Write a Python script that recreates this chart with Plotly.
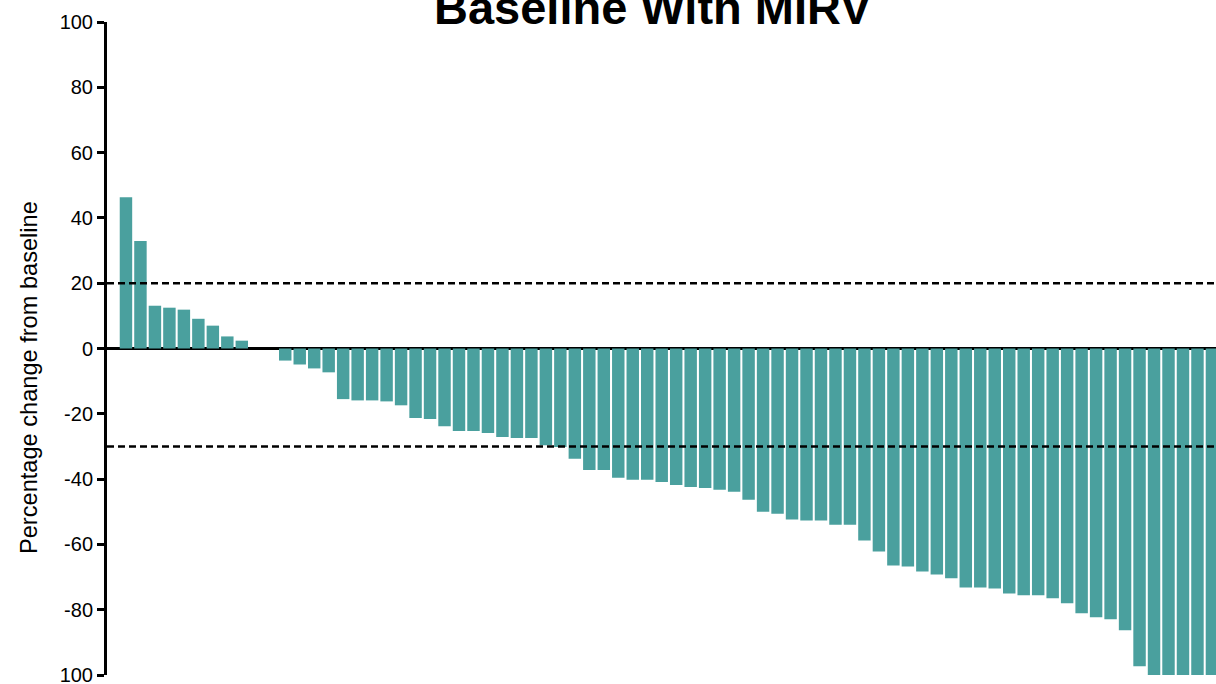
import plotly.graph_objects as go

# Percentage change from baseline per patient (sorted, waterfall)
values = [46.3, 32.9, 13.1, 12.5, 11.9, 9.1, 7.0, 3.7, 2.4, 0.0, 0.0,
          -3.7, -4.9, -6.1, -7.3, -15.5, -15.9, -15.9, -16.2, -17.4,
          -21.3, -21.6, -23.8, -25.3, -25.3, -25.9, -27.1, -27.4, -27.4,
          -29.6, -30.2, -33.8, -37.2, -37.2, -39.6, -40.2, -40.2, -40.9,
          -41.8, -42.4, -42.7, -43.3, -43.9, -46.3, -50.0, -50.6, -52.4,
          -52.7, -52.7, -54.0, -54.0, -58.8, -62.2, -66.5, -66.8, -68.3,
          -69.2, -70.4, -73.2, -73.2, -73.5, -75.0, -75.6, -75.6, -76.5,
          -78.0, -81.1, -82.3, -82.9, -86.3, -97.3, -100, -100, -100,
          -100, -100]
patients = list(range(len(values)))

tick_vals = [100, 80, 60, 40, 20, 0, -20, -40, -60, -80, -100]
tick_text = ["100", "80", "60", "40", "20", "0", "-20", "-40", "-60", "-80", "100"]
thresholds = [20, -30]

title_text = "<b>Baseline With MIRV</b>"
ytitle_text = "Percentage change from baseline"

W, H = 1216, 684
L, T, B = 107, 22, 9
plot_h = H - T - B
plot_w = W - L

fig = go.Figure()
fig.add_trace(go.Bar(x=patients, y=values, marker=dict(color="#4aa09e", line=dict(width=0)),
                     showlegend=False))

for t in thresholds:
    fig.add_shape(type="line", xref="paper", x0=0, x1=1, yref="y", y0=t, y1=t,
                  line=dict(color="black", width=2.5, dash="7px,4px"))

fig.add_annotation(text=title_text, xref="paper", yref="paper",
                   x=(653 - L) / plot_w, y=1 + (T - 7) / plot_h,
                   xanchor="center", yanchor="middle", showarrow=False,
                   font=dict(family="Arial", size=47, color="black"))

fig.add_annotation(text=ytitle_text, xref="paper", yref="paper",
                   x=(29 - L) / plot_w, y=(H - B - 378) / plot_h,
                   xanchor="center", yanchor="middle", showarrow=False, textangle=-90,
                   font=dict(family="Arial", size=23.6, color="black"))

fig.update_layout(
    width=W, height=H,
    margin=dict(l=L, r=0, t=T, b=B, autoexpand=False),
    paper_bgcolor="white", plot_bgcolor="white",
    bargap=0.14,
    font=dict(family="Arial", color="black"),
    xaxis=dict(range=[-1.31, 75.28], visible=False, showgrid=False, zeroline=False,
               automargin=False),
    yaxis=dict(range=[-100, 100], tickmode="array", tickvals=tick_vals, ticktext=tick_text,
               showgrid=False, zeroline=True, zerolinecolor="black", zerolinewidth=3,
               showline=True, linecolor="black", linewidth=3,
               ticks="outside", ticklen=7, tickwidth=2.5, tickcolor="black",
               ticklabeloverflow="allow", automargin=False,
               tickfont=dict(family="Arial", size=20, color="black")),
)

# remove the default page margin so the figure fills the window from its top-left corner
fig.write_html("out.html", config={"displayModeBar": False},
               post_script="document.body.style.margin='0';")
